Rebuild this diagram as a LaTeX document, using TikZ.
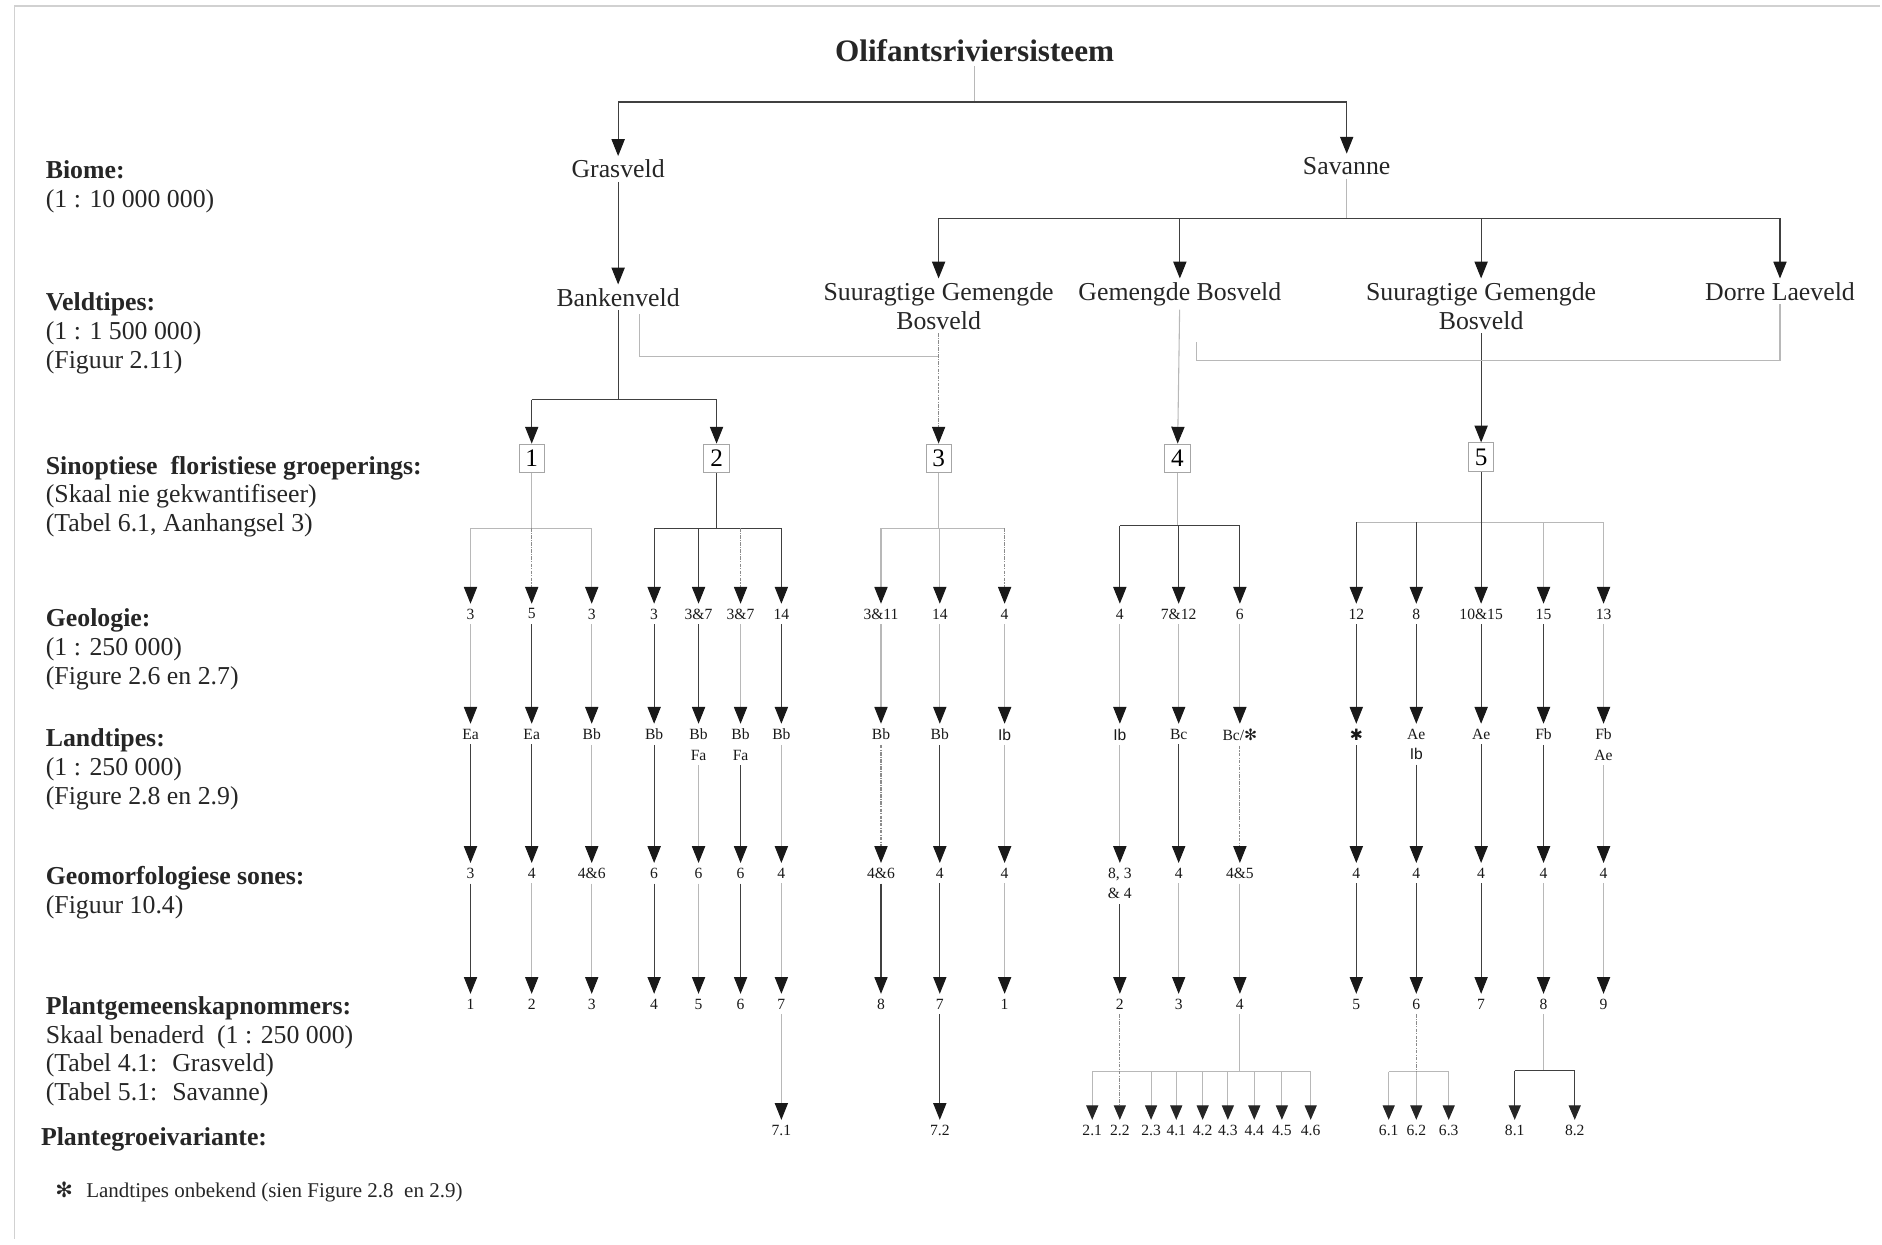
\documentclass[tikz,border=0pt]{standalone}
\usepackage{fontspec}
\setmainfont{Liberation Serif}
\setsansfont{Liberation Sans}
\newfontfamily\symb{DejaVu Sans}
\usetikzlibrary{arrows.meta}

\begin{document}
\begin{tikzpicture}[x=1pt,y=-1pt,
  dk/.style={draw=black!75,line width=0.9pt},
  ft/.style={draw=black!28,line width=0.9pt},
  dsh/.style={draw=black!45,line width=0.9pt,densely dashdotted},
  arr/.style={-{Triangle[width=11pt,length=14pt,color=black!90]}},
  sarr/.style={-{Triangle[width=10pt,length=12pt,color=black!85]}},
  lbl/.style={anchor=base west,align=left,inner sep=0pt,text=black!85,font=\fontsize{21.5}{24}\selectfont},
  veld/.style={anchor=north,align=center,inner sep=3pt,text=black!85,font=\fontsize{21.5}{24}\selectfont},
  grp/.style={draw=black!35,line width=0.8pt,inner sep=2pt,minimum width=21pt,minimum height=24pt,font=\fontsize{21}{22}\selectfont},
  val/.style={anchor=north,align=center,inner sep=4pt,text=black!90,font=\fontsize{13}{17}\selectfont}]
\useasboundingbox (0,0) rectangle (1568,1037);
% Scan frame
\draw[black!18,line width=1pt] (12,1032) -- (12,5) -- (1566,5);
% Level captions on the left (base = last line)
\node[lbl] (biome) at (38,173) {\textbf{Biome:}\\(1 : 10 000 000)};
\node[lbl] (veldtipes) at (38,307) {\textbf{Veldtipes:}\\(1 : 1 500 000)\\(Figuur 2.11)};
\node[lbl] (sinopties) at (38,443) {\textbf{Sinoptiese \ floristiese groeperings:}\\(Skaal nie gekwantifiseer)\\(Tabel 6.1, Aanhangsel 3)};
\node[lbl] (geologie) at (38,570) {\textbf{Geologie:}\\(1 : 250 000)\\(Figure 2.6 en 2.7)};
\node[lbl] (landtipes) at (38,670) {\textbf{Landtipes:}\\(1 : 250 000)\\(Figure 2.8 en 2.9)};
\node[lbl] (geomorf) at (38,761) {\textbf{Geomorfologiese sones:}\\(Figuur 10.4)};
\node[lbl] (plantgem) at (38,917) {\textbf{Plantgemeenskapnommers:}\\Skaal benaderd \ (1 : 250 000)\\(Tabel 4.1: \ Grasveld)\\(Tabel 5.1: \ Savanne)};
\node[lbl] (variante) at (34,954) {\textbf{Plantegroeivariante:}};
\node[lbl,font=\fontsize{17.5}{20}\selectfont] (note) at (46,998) {{\symb ✻}\hspace{11pt}Landtipes onbekend (sien Figure 2.8 \ en 2.9)};
% Title, biomes and veld types
\node[text=black!85,font=\bfseries\fontsize{26}{30}\selectfont] (ttl) at (812,42) {Olifantsriviersisteem};
\node[veld] (gras) at (515,130) {Grasveld};
\node[veld] (sav) at (1122,128) {Savanne};
\node[veld] (bank) at (515,237) {Bankenveld};
\node[veld] (sgb1) at (782,232) {Suuragtige Gemengde\\Bosveld};
\node[veld] (gb) at (983,232) {Gemengde Bosveld};
\node[veld] (sgb2) at (1234,232) {Suuragtige Gemengde\\Bosveld};
\node[veld] (dl) at (1483,232) {Dorre Laeveld};
\coordinate (topbar) at (812,85);
\draw[ft] (ttl) -- (topbar);
\draw[dk] (gras |- topbar) -- (sav |- topbar);
\draw[arr,dk] (gras |- topbar) -- (gras);
\draw[arr,dk] (sav |- topbar) -- (sav);
\draw[arr,dk] (gras) -- (bank);
\coordinate (savbar) at (1122,182);
\draw[ft] (sav) -- (savbar);
\draw[dk] (sgb1 |- savbar) -- (dl |- savbar);
\foreach \v in {sgb1,gb,sgb2,dl}
  \draw[arr,dk] (\v |- savbar) -- (\v);
% Synoptic groups
\node[grp] (g1) at (443,382) {1};
\node[grp] (g2) at (597,382) {2};
\node[grp] (g3) at (782,382) {3};
\node[grp] (g4) at (981,382) {4};
\node[grp] (g5) at (1234,381) {5};
\coordinate (bankbar) at (515,333);
\draw[dk] (bank) -- (bankbar);
\draw[dk] (g1 |- bankbar) -- (g2 |- bankbar);
\draw[arr,dk] (g1 |- bankbar) -- (g1);
\draw[arr,dk] (g2 |- bankbar) -- (g2);
\coordinate (lltop) at (533,262);
\coordinate (ll) at (533,297);
\draw[ft] (lltop) -- (ll) -- (sgb1 |- ll);
\draw[arr,dsh] (sgb1) -- (g3);
\draw[arr,ft] (gb) -- (g4);
\draw[arr,dk] (sgb2) -- (g5);
\coordinate (rltop) at (997,285);
\coordinate (rl) at (997,300);
\draw[ft] (rltop) -- (rl) -| (dl);
% Geology, land types, geomorphology and plant communities
\foreach \n/\x/\geo/\land/\geom/\comm in {
  a1/392/3/Ea/3/1, a2/443/5/Ea/4/2, a3/493/3/Bb/4\&6/3,
  b1/545/3/Bb/6/4, b2/582/3\&7/{Bb\\Fa}/6/5, b3/617/3\&7/{Bb\\Fa}/6/6, b4/651/14/Bb/4/7,
  c1/734/3\&11/Bb/4\&6/8, c2/783/14/Bb/4/7, c3/837/4/\textsf{Ib}/4/1,
  d1/933/4/\textsf{Ib}/{8, 3\\\& 4}/2, d2/982/7\&12/Bc/4/3, d3/1033/6/{Bc/{\symb ✻}}/4\&5/4,
  e1/1130/12/{\symb ✱}/4/5, e2/1180/8/{Ae\\\textsf{Ib}}/4/6, e3/1234/10\&15/Ae/4/7,
  e4/1286/15/Fb/4/8, e5/1336/13/{Fb\\Ae}/4/9}
{
  \node[val] (geo\n) at (\x,503) {\geo};
  \node[val] (land\n) at (\x,603) {\land};
  \node[val] (geom\n) at (\x,719) {\geom};
  \node[val] (comm\n) at (\x,828) {\comm};
}
\foreach \g/\x/\y/\i/\j/\s/\t in {1/443/440/a1/a3/ft/ft, 2/597/440/b1/b4/dk/dk,
  3/782/440/c1/c3/ft/ft, 4/981/438/d1/d3/ft/dk, 5/1234/435/e1/e5/dk/ft}
{
  \coordinate (bar\g) at (\x,\y);
  \draw[\s] (g\g) -- (bar\g);
  \draw[\t] (geo\i |- bar\g) -- (geo\j |- bar\g);
}
\foreach \n/\g/\s in {a1/1/ft, a2/1/dsh, a3/1/ft, b1/2/dk, b2/2/dk, b3/2/dsh, b4/2/dk,
  c1/3/ft, c2/3/ft, c3/3/dsh, d1/4/dk, d2/4/dk, d3/4/dk,
  e1/5/dk, e2/5/dk, e3/5/dk, e4/5/ft, e5/5/ft}
  \draw[arr,\s] (geo\n |- bar\g) -- (geo\n);
\foreach \n/\s/\t/\u in {a1/ft/dk/dk, a2/dk/dk/ft, a3/ft/ft/ft, b1/dk/dk/dk, b2/dk/ft/ft,
  b3/ft/dk/dk, b4/dk/ft/ft, c1/ft/dsh/dk, c2/ft/dk/dk, c3/ft/ft/ft, d1/ft/ft/dk,
  d2/ft/dk/ft, d3/ft/dsh/ft, e1/dk/dk/dk, e2/dk/dk/dk, e3/dk/dk/dk, e4/dk/dk/ft, e5/ft/ft/ft}
{
  \draw[arr,\s] (geo\n) -- (land\n);
  \draw[arr,\t] (land\n) -- (geom\n);
  \draw[arr,\u] (geom\n) -- (comm\n);
}
% Plant variants
\node[val] (v71) at (651,933) {7.1};
\node[val] (v72) at (783,933) {7.2};
\draw[arr,ft] (commb4) -- (v71);
\draw[arr,dk] (commc2) -- (v72);
\foreach \n/\x/\t in {21/910/2.1, 22/933/2.2, 23/959/2.3, 41/980/4.1, 42/1002/4.2,
  43/1023/4.3, 44/1045/4.4, 45/1068/4.5, 46/1092/4.6,
  61/1157/6.1, 62/1180/6.2, 63/1207/6.3, 81/1262/8.1, 82/1312/8.2}
  \node[val] (v\n) at (\x,933) {\t};
\coordinate (vbar4) at (1033,893);
\draw[ft] (v21 |- vbar4) -- (v46 |- vbar4);
\draw[ft] (commd3) -- (vbar4);
\draw[sarr,dsh] (commd1) -- (v22);
\foreach \n in {21,23,41,42,43,44,45,46}
  \draw[sarr,ft] (v\n |- vbar4) -- (v\n);
\coordinate (vbar6) at (1180,893);
\draw[ft] (v61 |- vbar6) -- (v63 |- vbar6);
\draw[dsh] (comme2) -- (vbar6);
\foreach \n in {61,62,63}
  \draw[sarr,ft] (v\n |- vbar6) -- (v\n);
\coordinate (vbar8) at (1286,892);
\draw[ft] (comme4) -- (vbar8);
\draw[dk] (v81 |- vbar8) -- (v82 |- vbar8);
\foreach \n in {81,82}
  \draw[sarr,dk] (v\n |- vbar8) -- (v\n);
\end{tikzpicture}
\end{document}
